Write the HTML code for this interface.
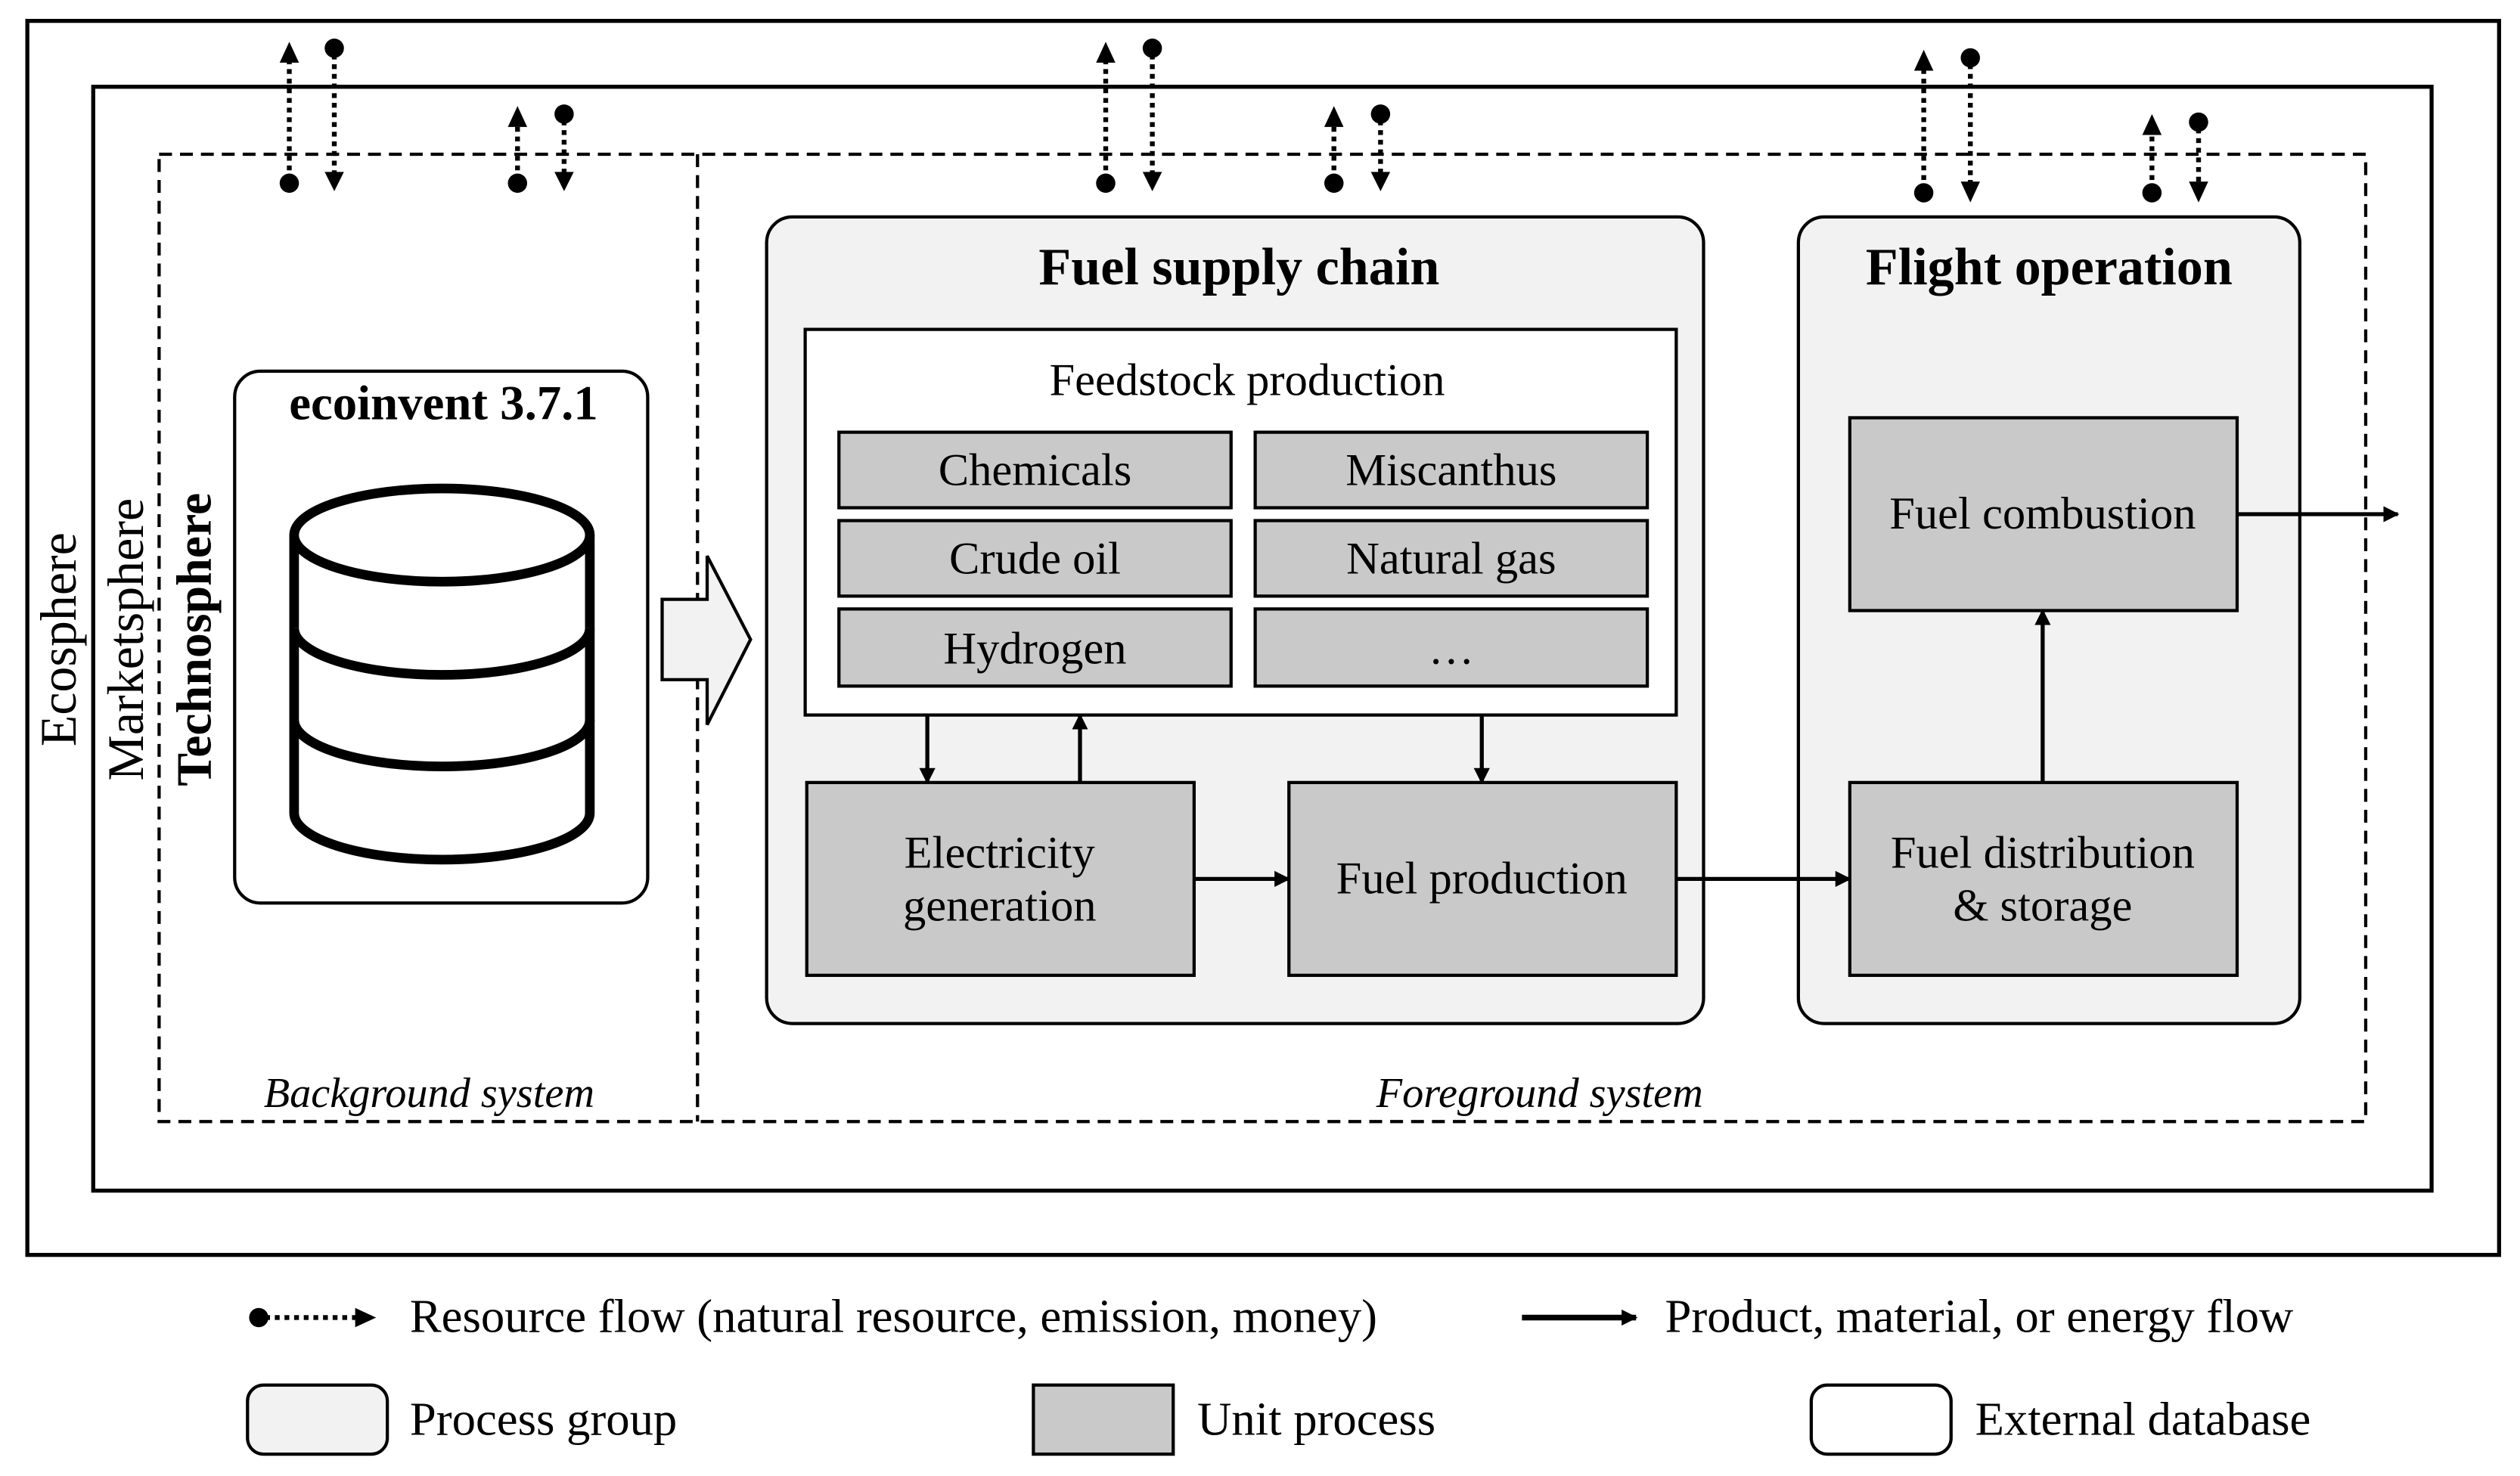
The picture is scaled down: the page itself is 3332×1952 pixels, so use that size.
<!DOCTYPE html>
<html><head><meta charset="utf-8"><style>html,body{margin:0;padding:0;background:#fff}svg{display:block}</style></head><body>
<svg width="3332" height="1952" viewBox="0 0 1568 918.6" xmlns="http://www.w3.org/2000/svg" font-family="Liberation Serif, serif">
<defs>
<marker id="ah" markerWidth="10" markerHeight="10" refX="9" refY="5" orient="auto" markerUnits="userSpaceOnUse"><path d="M0,0 L10,5 L0,10 z" fill="#000"/></marker>
</defs>
<rect x="17" y="13" width="1538" height="768" fill="none" stroke="#000" stroke-width="2.5"/>
<rect x="58" y="54" width="1455" height="687" fill="none" stroke="#000" stroke-width="2.5"/>
<rect x="99" y="96" width="1373" height="602" fill="none" stroke="#000" stroke-width="2" stroke-dasharray="8,5"/>
<line x1="434" y1="96" x2="434" y2="698" stroke="#000" stroke-width="2" stroke-dasharray="8,5"/>
<g fill="#000" stroke="#000" stroke-width="3" stroke-dasharray="3,3">
<line x1="180" y1="112" x2="180" y2="38"/><line x1="208" y1="34" x2="208" y2="108"/>
<line x1="322" y1="112" x2="322" y2="78"/><line x1="351" y1="75" x2="351" y2="108"/>
<line x1="688" y1="112" x2="688" y2="38"/><line x1="717" y1="34" x2="717" y2="108"/>
<line x1="830" y1="112" x2="830" y2="78"/><line x1="859" y1="75" x2="859" y2="108"/>
<line x1="1197" y1="118" x2="1197" y2="42"/><line x1="1226" y1="40" x2="1226" y2="115"/>
<line x1="1339" y1="118" x2="1339" y2="82"/><line x1="1368" y1="80" x2="1368" y2="115"/>
<line x1="165" y1="820" x2="222" y2="820"/>
</g>
<g fill="#000">
<circle cx="180" cy="114" r="6"/><path d="M174,39 L186,39 L180,26z"/><circle cx="208" cy="30" r="6"/><path d="M202,107 L214,107 L208,119z"/>
<circle cx="322" cy="114" r="6"/><path d="M316,79 L328,79 L322,66z"/><circle cx="351" cy="71" r="6"/><path d="M345,107 L357,107 L351,119z"/>
<circle cx="688" cy="114" r="6"/><path d="M682,39 L694,39 L688,26z"/><circle cx="717" cy="30" r="6"/><path d="M711,107 L723,107 L717,119z"/>
<circle cx="830" cy="114" r="6"/><path d="M824,79 L836,79 L830,66z"/><circle cx="859" cy="71" r="6"/><path d="M853,107 L865,107 L859,119z"/>
<circle cx="1197" cy="120" r="6"/><path d="M1191,44 L1203,44 L1197,31z"/><circle cx="1226" cy="36" r="6"/><path d="M1220,113 L1232,113 L1226,126z"/>
<circle cx="1339" cy="120" r="6"/><path d="M1333,84 L1345,84 L1339,71z"/><circle cx="1368" cy="76" r="6"/><path d="M1362,113 L1374,113 L1368,126z"/>
<circle cx="161" cy="820" r="6"/><path d="M221,814 L221,826 L234,820z"/>
</g>
<rect x="477" y="135" width="583" height="502" rx="16" fill="#f2f2f2" stroke="#000" stroke-width="2"/>
<rect x="1119" y="135" width="312" height="502" rx="16" fill="#f2f2f2" stroke="#000" stroke-width="2"/>
<text x="771" y="177" font-size="33" font-weight="bold" text-anchor="middle">Fuel supply chain</text>
<text x="1275" y="177" font-size="33" font-weight="bold" text-anchor="middle">Flight operation</text>
<rect x="501" y="205" width="542" height="240" fill="#fff" stroke="#000" stroke-width="2"/>
<text x="776" y="246" font-size="28.5" text-anchor="middle">Feedstock production</text>
<g fill="#c9c9c9" stroke="#000" stroke-width="2">
<rect x="522" y="269" width="244" height="47"/><rect x="781" y="269" width="244" height="47"/>
<rect x="522" y="324" width="244" height="47"/><rect x="781" y="324" width="244" height="47"/>
<rect x="522" y="379" width="244" height="48"/><rect x="781" y="379" width="244" height="48"/>
<rect x="502" y="487" width="241" height="120"/><rect x="802" y="487" width="241" height="120"/>
<rect x="1151" y="260" width="241" height="120"/><rect x="1151" y="487" width="241" height="120"/>
</g>
<g font-size="28.5" text-anchor="middle">
<text x="644" y="302">Chemicals</text><text x="903" y="302">Miscanthus</text>
<text x="644" y="357">Crude oil</text><text x="903" y="357">Natural gas</text>
<text x="644" y="413">Hydrogen</text><text x="903" y="413">…</text>
<text x="622" y="540">Electricity</text><text x="622" y="573">generation</text>
<text x="922" y="556">Fuel production</text>
<text x="1271" y="329">Fuel combustion</text>
<text x="1271" y="540">Fuel distribution</text><text x="1271" y="573">&amp; storage</text>
</g>
<g stroke="#000" stroke-width="2.5" marker-end="url(#ah)">
<line x1="577" y1="445" x2="577" y2="487"/><line x1="672" y1="487" x2="672" y2="445"/>
<line x1="922" y1="445" x2="922" y2="487"/>
<line x1="743" y1="547" x2="802" y2="547"/><line x1="1043" y1="547" x2="1151" y2="547"/>
<line x1="1271" y1="487" x2="1271" y2="380"/><line x1="1392" y1="320" x2="1492" y2="320"/>
<line x1="947" y1="820" x2="1018" y2="820" stroke-width="3.5"/>
</g>
<rect x="146" y="231" width="257" height="331" rx="16" fill="#fff" stroke="#000" stroke-width="2"/>
<text x="276" y="261" font-size="30.5" font-weight="bold" text-anchor="middle">ecoinvent 3.7.1</text>
<g fill="#fff" stroke="#000" stroke-width="6">
<path d="M183,333 L183,506 A92,29 0 0 0 367,506 L367,333"/>
<path d="M183,391 A92,29 0 0 0 367,391"/>
<path d="M183,448 A92,29 0 0 0 367,448"/>
<ellipse cx="275" cy="333" rx="92" ry="29"/>
</g>
<path d="M412,373 L440,373 L440,346 L467,398 L440,451 L440,423 L412,423 z" fill="#f2f2f2" stroke="#000" stroke-width="2"/>
<text transform="translate(47,398) rotate(-90)" font-size="32" text-anchor="middle">Ecosphere</text>
<text transform="translate(89,398) rotate(-90)" font-size="32" text-anchor="middle">Marketsphere</text>
<text transform="translate(131,398) rotate(-90)" font-size="31" font-weight="bold" text-anchor="middle">Technosphere</text>
<text x="267" y="689" font-size="26.5" font-style="italic" text-anchor="middle">Background system</text>
<text x="958" y="689" font-size="26.5" font-style="italic" text-anchor="middle">Foreground system</text>
<g font-size="29.5">
<text x="255" y="829">Resource flow (natural resource, emission, money)</text>
<text x="1036" y="829">Product, material, or energy flow</text>
<text x="255" y="893">Process group</text>
<text x="745" y="893">Unit process</text>
<text x="1229" y="893">External database</text>
</g>
<rect x="154" y="862" width="87" height="43" rx="10" fill="#f2f2f2" stroke="#000" stroke-width="2"/>
<rect x="643" y="862" width="87" height="43" fill="#c9c9c9" stroke="#000" stroke-width="2"/>
<rect x="1127" y="862" width="87" height="43" rx="10" fill="#fff" stroke="#000" stroke-width="2"/>
</svg>
</body></html>
